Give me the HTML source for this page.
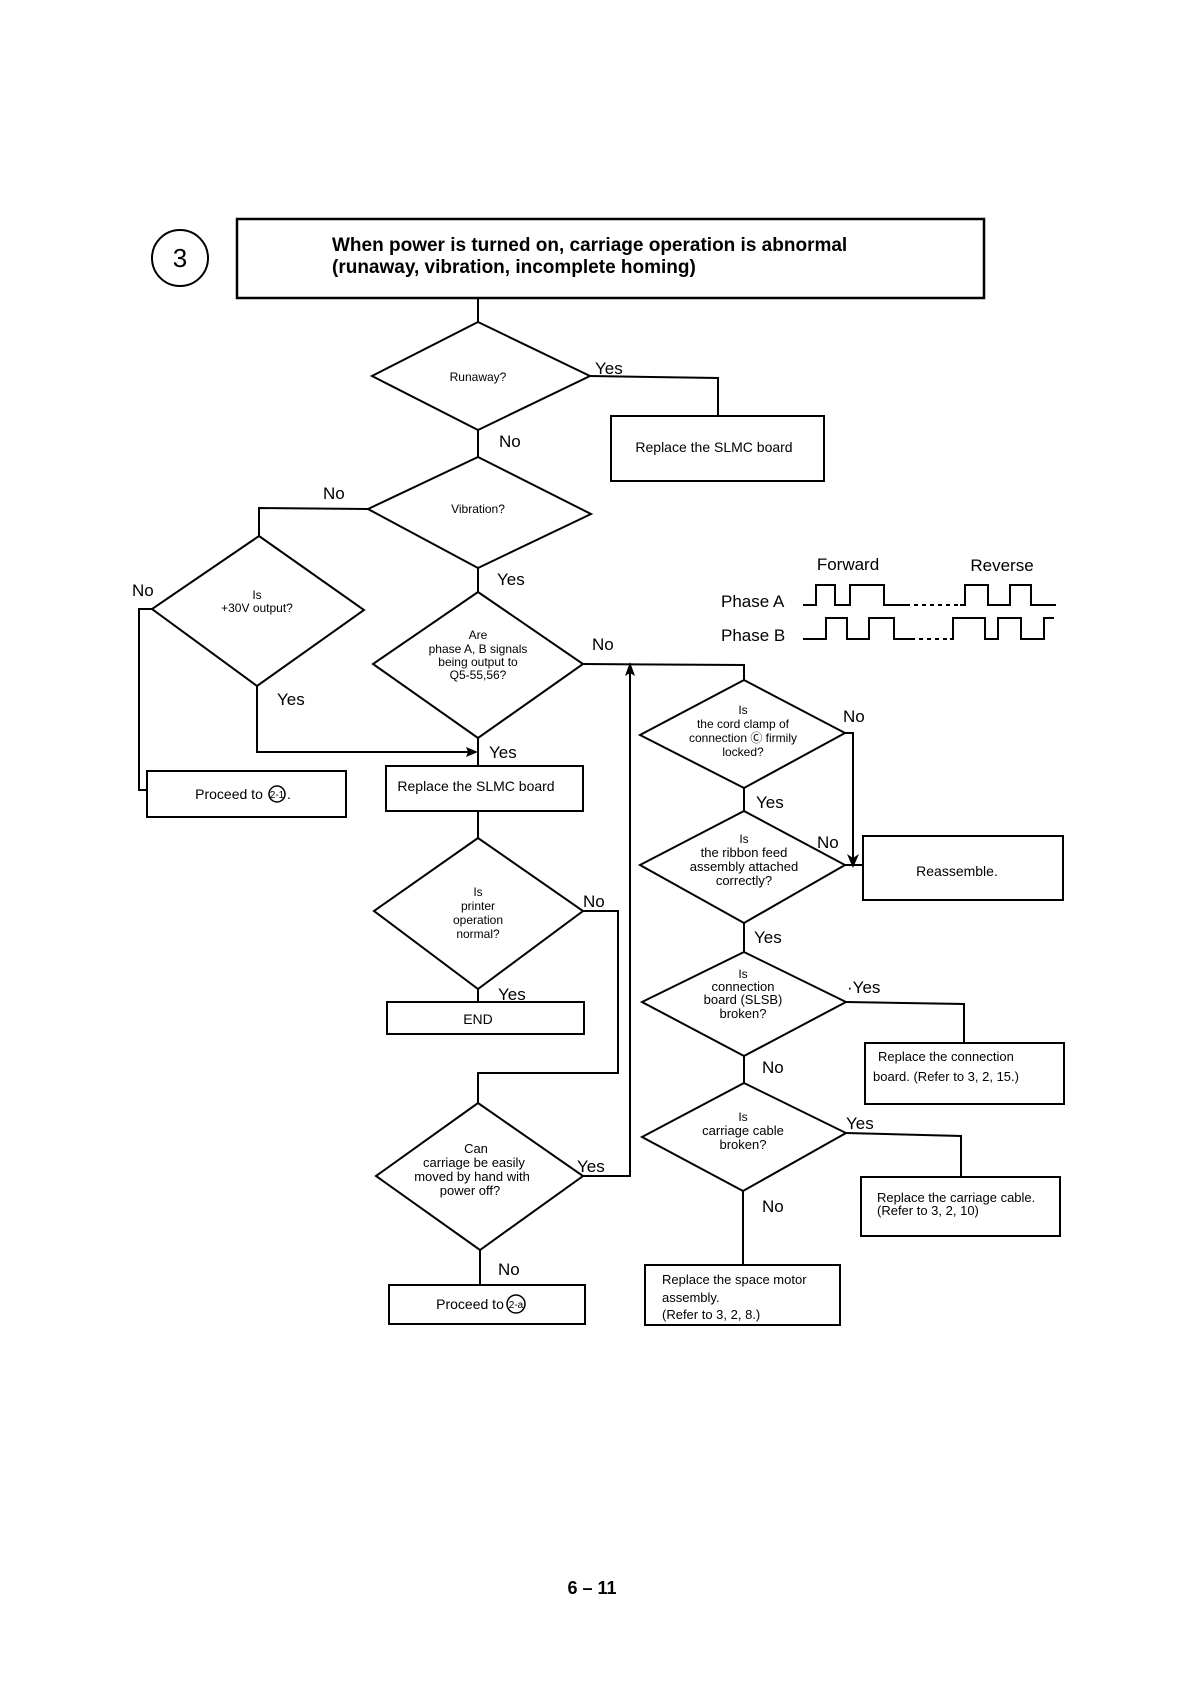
<!DOCTYPE html>
<html><head><meta charset="utf-8"><style>
html,body{margin:0;padding:0;background:#fff;}
svg{display:block;}
text{font-family:"Liberation Sans",sans-serif;fill:#000;}
.s{font-size:12px;}
.m{font-size:14px;}
.l{font-size:17px;}
</style></head><body>
<svg width="1188" height="1682" viewBox="0 0 1188 1682" xmlns="http://www.w3.org/2000/svg" fill="none" stroke="#000" stroke-width="2">
<circle cx="180" cy="258" r="28"/>
<text x="180" y="267" class="l" style="font-size:26px" text-anchor="middle" stroke="none">3</text>
<rect x="237" y="219" width="747" height="79" stroke-width="2.5"/>
<text x="332" y="251" stroke="none" style="font-size:19px;font-weight:bold">When power is turned on, carriage operation is abnormal</text>
<text x="332" y="273" stroke="none" style="font-size:19px;font-weight:bold">(runaway, vibration, incomplete homing)</text>

<line x1="478" y1="298" x2="478" y2="322"/>
<polygon points="478,322 590,376 478,430 372,376"/>
<text x="478" y="381" class="s" text-anchor="middle" stroke="none">Runaway?</text>
<text x="595" y="374" class="l" stroke="none">Yes</text>
<polyline points="590,376 718,378 718,416"/>
<rect x="611" y="416" width="213" height="65"/>
<text x="714" y="452" class="m" text-anchor="middle" stroke="none">Replace the SLMC board</text>
<text x="499" y="447" class="l" stroke="none">No</text>
<line x1="478" y1="430" x2="478" y2="457"/>
<polygon points="478,457 591,514 478,568 368,509"/>
<text x="478" y="513" class="s" text-anchor="middle" stroke="none">Vibration?</text>
<text x="323" y="499" class="l" stroke="none">No</text>
<polyline points="368,509 259,508 259,536"/>
<polygon points="259,536 364,610 257,686 152,609"/>
<text x="257" y="599" class="s" text-anchor="middle" stroke="none">Is</text>
<text x="257" y="612" class="s" text-anchor="middle" stroke="none">+30V output?</text>
<text x="132" y="596" class="l" stroke="none">No</text>
<polyline points="152,609 139,609 139,790 147,790"/>
<rect x="147" y="771" width="199" height="46"/>
<text x="229" y="799" class="m" text-anchor="middle" stroke="none">Proceed to</text>
<circle cx="277" cy="794" r="8" stroke-width="1.5"/>
<text x="277" y="798" text-anchor="middle" stroke="none" style="font-size:10px">2-1</text>
<text x="287" y="799" class="m" stroke="none">.</text>
<text x="277" y="705" class="l" stroke="none">Yes</text>
<polyline points="257,686 257,752 474,752"/>
<polygon points="478,752 466,747 468,752 466,757" fill="#000" stroke="none"/>
<text x="497" y="585" class="l" stroke="none">Yes</text>
<line x1="478" y1="568" x2="478" y2="592"/>
<polygon points="478,592 583,664 478,738 373,664"/>
<text x="478" y="639" class="s" text-anchor="middle" stroke="none">Are</text>
<text x="478" y="653" class="s" text-anchor="middle" stroke="none">phase A, B signals</text>
<text x="478" y="666" class="s" text-anchor="middle" stroke="none">being output to</text>
<text x="478" y="679" class="s" text-anchor="middle" stroke="none">Q5-55,56?</text>
<text x="592" y="650" class="l" stroke="none">No</text>
<polyline points="583,664 744,665 744,680"/>
<line x1="478" y1="738" x2="478" y2="766"/>
<text x="489" y="758" class="l" stroke="none">Yes</text>
<rect x="386" y="766" width="197" height="45"/>
<text x="476" y="791" class="m" text-anchor="middle" stroke="none">Replace the SLMC board</text>
<line x1="478" y1="811" x2="478" y2="838"/>
<polygon points="478,838 583,911 478,989 374,911"/>
<text x="478" y="896" class="s" text-anchor="middle" stroke="none">Is</text>
<text x="478" y="910" class="s" text-anchor="middle" stroke="none">printer</text>
<text x="478" y="924" class="s" text-anchor="middle" stroke="none">operation</text>
<text x="478" y="938" class="s" text-anchor="middle" stroke="none">normal?</text>
<text x="583" y="907" class="l" stroke="none">No</text>
<polyline points="583,911 618,911 618,1073 478,1073 478,1103"/>
<text x="498" y="1000" class="l" stroke="none">Yes</text>
<line x1="478" y1="989" x2="478" y2="1002"/>
<rect x="387" y="1002" width="197" height="32"/>
<text x="478" y="1024" class="m" text-anchor="middle" stroke="none">END</text>
<polygon points="478,1103 583,1176 480,1250 376,1176"/>
<text x="476" y="1153" class="s" text-anchor="middle" stroke="none" style="font-size:13px">Can</text>
<text x="474" y="1167" class="s" text-anchor="middle" stroke="none" style="font-size:13px">carriage be easily</text>
<text x="472" y="1181" class="s" text-anchor="middle" stroke="none" style="font-size:13px">moved by hand with</text>
<text x="470" y="1195" class="s" text-anchor="middle" stroke="none" style="font-size:13px">power  off?</text>
<text x="577" y="1172" class="l" stroke="none">Yes</text>
<polyline points="583,1176 630,1176 630,670"/>
<polygon points="630,662 625,676 630,673 635,676" fill="#000" stroke="none"/>
<text x="498" y="1275" class="l" stroke="none">No</text>
<line x1="480" y1="1250" x2="480" y2="1285"/>
<rect x="389" y="1285" width="196" height="39"/>
<text x="470" y="1309" class="m" text-anchor="middle" stroke="none">Proceed to</text>
<circle cx="516" cy="1304" r="9" stroke-width="1.5"/>
<text x="516" y="1308" text-anchor="middle" stroke="none" style="font-size:10px">2-a</text>

<polygon points="744,680 845,733 744,788 640,735"/>
<text x="743" y="714" class="s" text-anchor="middle" stroke="none">Is</text>
<text x="743" y="728" class="s" text-anchor="middle" stroke="none">the cord clamp of</text>
<text x="743" y="742" class="s" text-anchor="middle" stroke="none">connection Ⓒ firmily</text>
<text x="743" y="756" class="s" text-anchor="middle" stroke="none">locked?</text>
<text x="843" y="722" class="l" stroke="none">No</text>
<polyline points="845,733 853,733 853,860"/>
<polygon points="853,868 847,854 853,858 859,854" fill="#000" stroke="none"/>
<text x="756" y="808" class="l" stroke="none">Yes</text>
<line x1="744" y1="788" x2="744" y2="811"/>
<polygon points="744,811 845,865 744,923 640,865"/>
<text x="744" y="843" class="s" text-anchor="middle" stroke="none">Is</text>
<text x="744" y="857" class="s" text-anchor="middle" stroke="none" style="font-size:13px">the ribbon feed</text>
<text x="744" y="871" class="s" text-anchor="middle" stroke="none" style="font-size:13px">assembly attached</text>
<text x="744" y="885" class="s" text-anchor="middle" stroke="none" style="font-size:13px">correctly?</text>
<text x="817" y="848" class="l" stroke="none">No</text>
<line x1="845" y1="865" x2="863" y2="865"/>
<rect x="863" y="836" width="200" height="64"/>
<text x="957" y="876" class="m" text-anchor="middle" stroke="none">Reassemble.</text>
<text x="754" y="943" class="l" stroke="none">Yes</text>
<line x1="744" y1="923" x2="744" y2="952"/>
<polygon points="744,952 846,1002 744,1056 642,1002"/>
<text x="743" y="978" class="s" text-anchor="middle" stroke="none">Is</text>
<text x="743" y="991" class="s" text-anchor="middle" stroke="none" style="font-size:13px">connection</text>
<text x="743" y="1004" class="s" text-anchor="middle" stroke="none" style="font-size:13px">board (SLSB)</text>
<text x="743" y="1018" class="s" text-anchor="middle" stroke="none" style="font-size:13px">broken?</text>
<text x="847" y="993" class="l" stroke="none">·Yes</text>
<polyline points="846,1002 964,1004 964,1043"/>
<rect x="865" y="1043" width="199" height="61"/>
<text x="878" y="1061" class="m" stroke="none" style="font-size:13px">Replace the connection</text>
<text x="873" y="1081" class="m" stroke="none" style="font-size:13px">board.  (Refer to 3, 2, 15.)</text>
<text x="762" y="1073" class="l" stroke="none">No</text>
<line x1="744" y1="1056" x2="744" y2="1083"/>
<polygon points="744,1083 846,1133 743,1191 642,1137"/>
<text x="743" y="1121" class="s" text-anchor="middle" stroke="none">Is</text>
<text x="743" y="1135" class="s" text-anchor="middle" stroke="none" style="font-size:13px">carriage cable</text>
<text x="743" y="1149" class="s" text-anchor="middle" stroke="none" style="font-size:13px">broken?</text>
<text x="846" y="1129" class="l" stroke="none">Yes</text>
<polyline points="846,1133 961,1136 961,1177"/>
<rect x="861" y="1177" width="199" height="59"/>
<text x="877" y="1202" class="m" stroke="none" style="font-size:13px">Replace the carriage cable.</text>
<text x="877" y="1215" class="m" stroke="none" style="font-size:13px">(Refer to 3, 2, 10)</text>
<text x="762" y="1212" class="l" stroke="none">No</text>
<line x1="743" y1="1191" x2="743" y2="1265"/>
<rect x="645" y="1265" width="195" height="60"/>
<text x="662" y="1284" class="m" stroke="none" style="font-size:13px">Replace the space motor</text>
<text x="662" y="1302" class="m" stroke="none" style="font-size:13px">assembly.</text>
<text x="662" y="1319" class="m" stroke="none" style="font-size:13px">(Refer to 3, 2, 8.)</text>

<text x="848" y="570" class="l" text-anchor="middle" stroke="none">Forward</text>
<text x="1002" y="571" class="l" text-anchor="middle" stroke="none">Reverse</text>
<text x="721" y="607" class="l" stroke="none">Phase A</text>
<text x="721" y="641" class="l" stroke="none">Phase B</text>
<polyline points="803,605 816,605 816,585 835,585 835,605 850,605 850,585 884,585 884,605 906,605"/>
<line x1="906" y1="605" x2="960" y2="605" stroke-dasharray="4,4"/>
<polyline points="960,605 965,605 965,585 988,585 988,605 1010,605 1010,585 1031,585 1031,605 1056,605"/>
<polyline points="803,639 826,639 826,618 847,618 847,639 869,639 869,618 894,618 894,639 911,639"/>
<line x1="911" y1="639" x2="950" y2="639" stroke-dasharray="4,4"/>
<polyline points="950,639 953,639 953,618 985,618 985,639 998,639 998,618 1021,618 1021,639 1044,639 1044,618 1054,618"/>

<text x="592" y="1594" stroke="none" text-anchor="middle" style="font-size:18px;font-weight:bold">6 – 11</text>
</svg>
</body></html>
